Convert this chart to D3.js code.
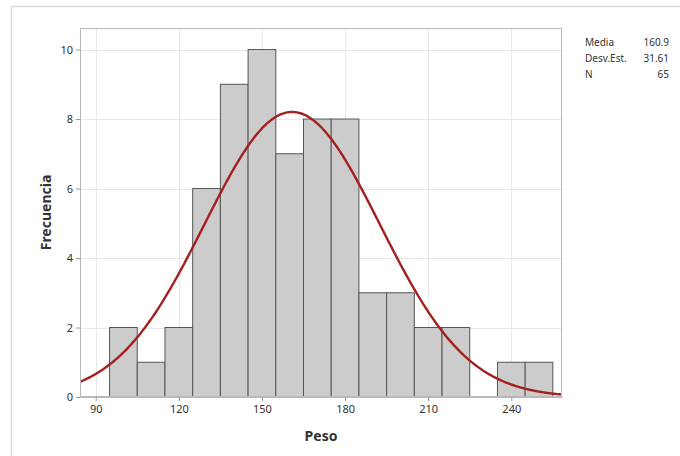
<!DOCTYPE html>
<html>
<head>
<meta charset="utf-8">
<script src="https://cdn.jsdelivr.net/npm/d3@7"></script>
<style>
  html, body { margin: 0; padding: 0; background: #fff; }
  svg { display: block; font-family: "Segoe UI", "Noto Sans", "Open Sans", sans-serif; }
</style>
</head>
<body>
<svg id="chart" width="680" height="456"></svg>
<script>
// Histogram bins of Peso (lower edge, width 10) and their counts
const binStarts = [95, 105, 115, 125, 135, 145, 155, 165, 175, 185, 195, 205, 215, 225, 235, 245];
const binWidth = 10;
const counts = [2, 1, 2, 6, 9, 10, 7, 8, 8, 3, 3, 2, 2, 0, 1, 1];
const xTicks = [90, 120, 150, 180, 210, 240];
const yTicks = [0, 2, 4, 6, 8, 10];
const statLabels = ["Media", "Desv.Est.", "N"];
const statValues = ["160.9", "31.61", "65"];
const mean = 160.9, sd = 31.61, n = 65;

const svg = d3.select("#chart");
const plotL = 80, plotR = 562, plotT = 28, plotB = 397;

const x = d3.scaleLinear().domain([84.33, 258.3]).range([plotL, plotR]);
const y = d3.scaleLinear().domain([0, 10.62]).range([plotB, plotT]);

// outer panel border
svg.append("rect").attr("x", 11.5).attr("y", 6.5).attr("width", 700).attr("height", 500)
  .attr("fill", "none").attr("stroke", "#dcdcdc").attr("stroke-width", 1.5);

// gridlines
const grid = svg.append("g");
grid.selectAll("line.v").data(xTicks).join("line").attr("class", "v")
  .attr("x1", d => Math.round(x(d)) + 0.5).attr("x2", d => Math.round(x(d)) + 0.5)
  .attr("y1", plotT).attr("y2", plotB).attr("stroke", "#e8e8e8");
grid.selectAll("line.h").data(yTicks.slice(1)).join("line").attr("class", "h")
  .attr("y1", d => Math.round(y(d)) + 0.5).attr("y2", d => Math.round(y(d)) + 0.5)
  .attr("x1", plotL).attr("x2", plotR).attr("stroke", "#e8e8e8");

// bars
svg.append("g").selectAll("rect").data(binStarts.map((s, i) => ({ s, c: counts[i] })).filter(d => d.c > 0))
  .join("rect")
  .attr("x", d => x(d.s)).attr("width", d => x(d.s + binWidth) - x(d.s))
  .attr("y", d => y(d.c)).attr("height", d => y(0) - y(d.c))
  .attr("fill", "#cccccc").attr("stroke", "#555").attr("stroke-width", 1);

// fitted normal curve scaled to counts
svg.append("clipPath").attr("id", "plotclip").append("rect")
  .attr("x", plotL).attr("y", plotT).attr("width", plotR - plotL).attr("height", plotB - plotT);
const pts = d3.range(0, 401).map(i => {
  const v = x.domain()[0] + (x.domain()[1] - x.domain()[0]) * i / 400;
  const f = n * binWidth / (sd * Math.sqrt(2 * Math.PI)) * Math.exp(-0.5 * ((v - mean) / sd) ** 2);
  return [v, f];
});
svg.append("path").datum(pts)
  .attr("clip-path", "url(#plotclip)")
  .attr("d", d3.line().x(d => x(d[0])).y(d => y(d[1])).curve(d3.curveBasis))
  .attr("fill", "none").attr("stroke", "#a3201f").attr("stroke-width", 2.4);

// plot frame
svg.append("rect").attr("x", plotL + 0.5).attr("y", plotT + 0.5)
  .attr("width", plotR - plotL - 1).attr("height", plotB - plotT - 1)
  .attr("fill", "none").attr("stroke", "#b8b8b8");

// axes
const xAxis = svg.append("g").attr("transform", `translate(0,${plotB})`)
  .call(d3.axisBottom(x).tickValues(xTicks).tickSize(4).tickSizeOuter(0).tickPadding(4));
const yAxis = svg.append("g").attr("transform", `translate(${plotL},0)`)
  .call(d3.axisLeft(y).tickValues(yTicks).tickSize(4).tickSizeOuter(0).tickPadding(3));
[xAxis, yAxis].forEach(a => {
  a.select(".domain").attr("stroke", "#b8b8b8");
  a.selectAll(".tick line").attr("stroke", "#9a9a9a");
  a.selectAll(".tick text").attr("fill", "#333").attr("font-size", 11)
    .attr("font-family", "'Segoe UI', 'Noto Sans', 'Open Sans', sans-serif");
});

// axis titles
svg.append("text").attr("x", (plotL + plotR) / 2).attr("y", 441)
  .attr("text-anchor", "middle").attr("font-size", 14).attr("font-weight", "bold")
  .attr("fill", "#333").text("Peso");
svg.append("text").attr("transform", `translate(51,${(plotT + plotB) / 2}) rotate(-90)`)
  .attr("text-anchor", "middle").attr("font-size", 14).attr("font-weight", "bold")
  .attr("fill", "#333").text("Frecuencia");

// summary statistics
const stats = svg.append("g").attr("font-size", 10).attr("fill", "#333");
statLabels.forEach((l, i) => {
  stats.append("text").attr("x", 585).attr("y", 46 + i * 16).text(l);
  stats.append("text").attr("x", 669).attr("y", 46 + i * 16).attr("text-anchor", "end").text(statValues[i]);
});
</script>
</body>
</html>
